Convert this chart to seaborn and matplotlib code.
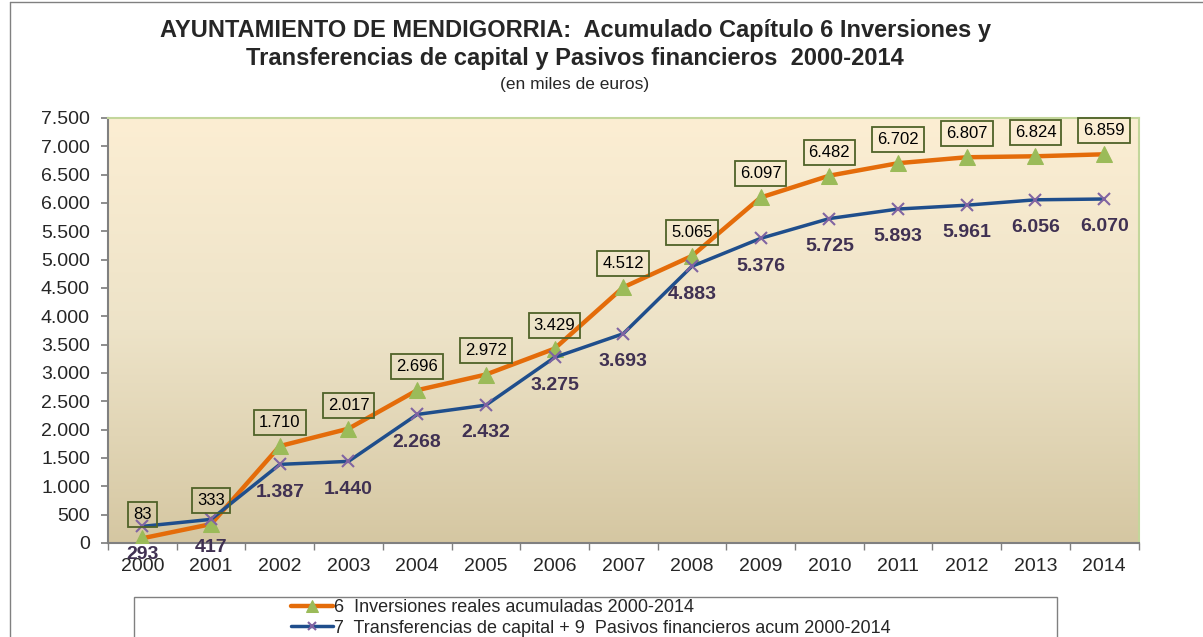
import matplotlib
matplotlib.use('Agg')
import matplotlib.pyplot as plt
import matplotlib.patches as mpatches
from matplotlib.colors import LinearSegmentedColormap
import numpy as np
import pandas as pd
import seaborn as sns

years = ['2000', '2001', '2002', '2003', '2004', '2005', '2006', '2007',
         '2008', '2009', '2010', '2011', '2012', '2013', '2014']
inversiones = [83, 333, 1710, 2017, 2696, 2972, 3429, 4512, 5065, 6097, 6482, 6702, 6807, 6824, 6859]
transferencias = [293, 417, 1387, 1440, 2268, 2432, 3275, 3693, 4883, 5376, 5725, 5893, 5961, 6056, 6070]
yticks = list(range(0, 7501, 500))

label_inv = '6  Inversiones reales acumuladas 2000-2014'
label_tra = '7  Transferencias de capital + 9  Pasivos financieros acum 2000-2014'

ORANGE = '#E46C0A'
GREEN = '#9BBB59'
NAVY = '#1F4E8C'
PURPLE = '#8064A2'
DARKPURPLE = '#403152'
BOXEDGE = '#4F6228'


def fmt(v):
    return f'{v:,}'.replace(',', '.')


sns.set_theme(style='white')
plt.rcParams['font.family'] = ['Liberation Sans', 'DejaVu Sans']

df = pd.DataFrame({'year': years * 2,
                   'value': inversiones + transferencias,
                   'serie': [label_inv] * len(years) + [label_tra] * len(years)})

fig = plt.figure(figsize=(12.03, 6.37), dpi=100)
ax = fig.add_axes([0.0898, 0.1476, 0.8566, 0.6672])

# gradient background of the plot area
grad = LinearSegmentedColormap.from_list('bg', ['#D5C7A2', '#EDE3C8', '#FCEED3'])
ax.imshow(np.linspace(0, 1, 256).reshape(-1, 1), cmap=grad, origin='lower',
          extent=[-0.5, 14.5, 0, 7500], aspect='auto', zorder=0)

sns.lineplot(data=df[df['serie'] == label_inv], x='year', y='value', ax=ax,
             color=ORANGE, linewidth=3.2, marker='^', markersize=11,
             markerfacecolor=GREEN, markeredgecolor=GREEN, label=label_inv, zorder=3)
sns.lineplot(data=df[df['serie'] == label_tra], x='year', y='value', ax=ax,
             color=NAVY, linewidth=2.5, marker='x', markersize=8,
             markeredgecolor=PURPLE, markeredgewidth=1.5, label=label_tra, zorder=4)

for i, v in enumerate(inversiones):
    ax.annotate(fmt(v), (i, v), xytext=(0, 17), textcoords='offset points',
                ha='center', va='center', fontsize=12, color='black', zorder=6,
                bbox=dict(boxstyle='square,pad=0.3', fc='none', ec=BOXEDGE, lw=1.3))
for i, v in enumerate(transferencias):
    ax.annotate(fmt(v), (i, v), xytext=(0, -20), textcoords='offset points',
                ha='center', va='center', fontsize=14, fontweight='bold',
                color=DARKPURPLE, zorder=6)

ax.set_xlim(-0.5, 14.5)
ax.set_ylim(0, 7500)
ax.set_yticks(yticks)
ax.set_yticklabels([fmt(t) for t in yticks], fontsize=14)
ax.set_xticks(range(len(years)))
ax.set_xticklabels(years, fontsize=14)
ax.set_xticks(np.arange(-0.5, 15, 1), minor=True)
ax.tick_params(axis='x', which='major', length=0, pad=11)
ax.tick_params(axis='x', which='minor', length=5, color='#808080', direction='out', bottom=True)
ax.tick_params(axis='y', length=5, color='#808080', direction='out', left=True, pad=8)
ax.set_xlabel('')
ax.set_ylabel('')
for s in ['left', 'bottom']:
    ax.spines[s].set_color('#808080')
    ax.spines[s].set_linewidth(1.5)
for s in ['top', 'right']:
    ax.spines[s].set_color('#C3D69B')
    ax.spines[s].set_linewidth(1.5)
ax.grid(False)

ax.get_legend().remove()
# legend box, cut off by the lower edge of the image
fig.patches.append(mpatches.Rectangle((134 / 1203, -0.05), (1057 - 134) / 1203, 0.05 + 40 / 637,
                                      transform=fig.transFigure, fc='white', ec='#808080', lw=1))
handles, labels = ax.get_legend_handles_labels()
fig.legend(handles, labels, loc='upper left', bbox_to_anchor=(291 / 1203, 1 - 599 / 637),
           frameon=False, fontsize=13, handlelength=2.3, handletextpad=0.1,
           labelspacing=0.2, borderpad=0, borderaxespad=0, markerscale=0.8)

# outer chart border
fig.add_artist(plt.Line2D([10 / 1203, 10 / 1203], [0, 1 - 2 / 637], transform=fig.transFigure,
                          color='#808080', lw=1))
fig.add_artist(plt.Line2D([10 / 1203, 1], [1 - 2 / 637, 1 - 2 / 637], transform=fig.transFigure,
                          color='#808080', lw=1))

fig.text(0.478, 1 - 31 / 637, 'AYUNTAMIENTO DE MENDIGORRIA:  Acumulado Capítulo 6 Inversiones y',
         ha='center', va='center', fontsize=17, fontweight='bold')
fig.text(0.478, 1 - 59 / 637, 'Transferencias de capital y Pasivos financieros  2000-2014',
         ha='center', va='center', fontsize=17, fontweight='bold')
fig.text(0.478, 1 - 85 / 637, '(en miles de euros)', ha='center', va='center', fontsize=12.5)

fig.savefig('out.png', dpi=100)
